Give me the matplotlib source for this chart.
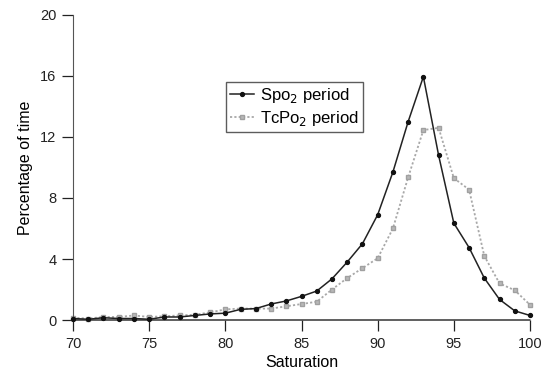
import matplotlib
matplotlib.use("Agg")
import matplotlib.pyplot as plt

plt.rcParams['font.family'] = ['Liberation Sans', 'DejaVu Sans']

saturation = list(range(70, 101))
spo2 = [0.1, 0.05, 0.15, 0.1, 0.1, 0.05, 0.2, 0.2, 0.3, 0.4, 0.45,
        0.7, 0.75, 1.05, 1.25, 1.55, 1.9, 2.7, 3.8, 5.0, 6.9,
        9.7, 13.0, 15.95, 10.8, 6.35, 4.75, 2.75, 1.35, 0.6, 0.3]
tcpo2 = [0.15, 0.1, 0.2, 0.2, 0.3, 0.2, 0.25, 0.3, 0.35, 0.5, 0.7,
         0.75, 0.75, 0.75, 0.9, 1.05, 1.2, 2.0, 2.75, 3.4, 4.05,
         6.0, 9.35, 12.45, 12.6, 9.3, 8.55, 4.2, 2.4, 1.95, 1.0]
xticks = [70, 75, 80, 85, 90, 95, 100]
yticks = [0, 4, 8, 12, 16, 20]

fig = plt.figure(figsize=(5.46, 3.73), dpi=100)
ax = fig.add_axes([0.1337, 0.142, 0.837, 0.818])

ax.plot(saturation, tcpo2, color='#a8a8a8', linestyle=(0, (1.2, 1.2)), linewidth=1.3,
        marker='s', markersize=3.5, markerfacecolor='#b8b8b8', markeredgecolor='#a0a0a0',
        label=r'TcPo$_2$ period', zorder=2, clip_on=False)
ax.plot(saturation, spo2, color='#222222', linestyle='-', linewidth=1.1,
        marker='o', markersize=2.8, markerfacecolor='#111111', markeredgecolor='#111111',
        label=r'Spo$_2$ period', zorder=3, clip_on=False)

ax.set_xlim(70, 100)
ax.set_ylim(0, 20)
ax.set_xticks(xticks)
ax.set_yticks(yticks)
ax.tick_params(direction='out', length=8, width=0.9, labelsize=10.5, colors='#222222', pad=4)
for s in ['top', 'right']:
    ax.spines[s].set_visible(False)
ax.spines['left'].set_color('#555555')
ax.spines['bottom'].set_color('#444444')
ax.spines['bottom'].set_linestyle((0, (1.5, 1)))
ax.spines['bottom'].set_linewidth(1.2)

ax.set_xlabel('Saturation', fontsize=11.5, labelpad=3)
ax.set_ylabel('Percentage of time', fontsize=11.5, labelpad=5)

handles, labels = ax.get_legend_handles_labels()
leg = ax.legend(handles[::-1], labels[::-1], loc='upper left',
                bbox_to_anchor=(0.335, 0.78), fontsize=12, frameon=True,
                fancybox=False, edgecolor='#333333', handlelength=1.4,
                handletextpad=0.4, borderpad=0.25, labelspacing=0.2,
                borderaxespad=0)
leg.get_frame().set_linewidth(1.0)

fig.savefig('out.png', dpi=100)
